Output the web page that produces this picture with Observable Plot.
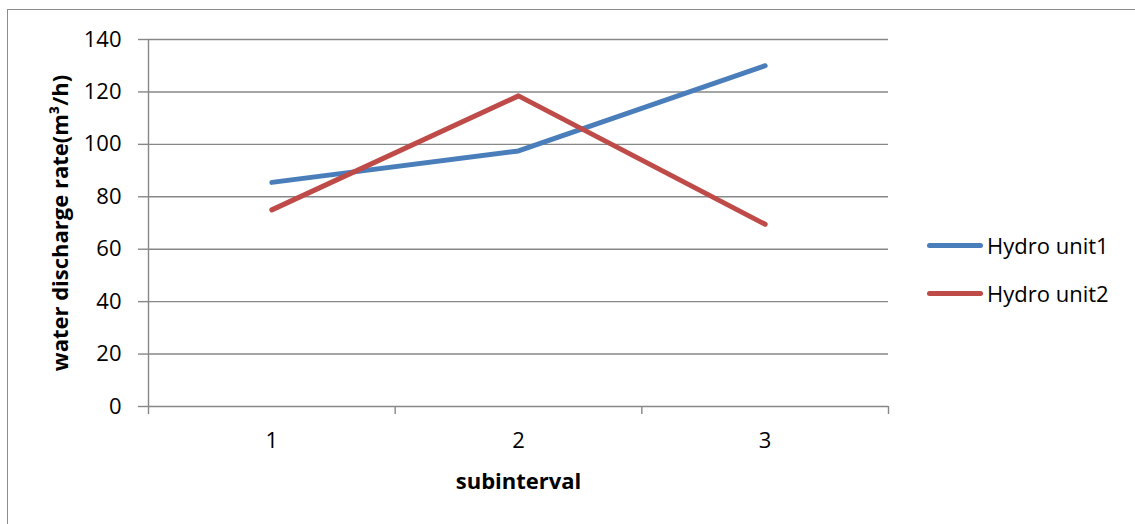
<!DOCTYPE html>
<html>
<head>
<meta charset="utf-8">
<script src="https://cdn.jsdelivr.net/npm/d3@7"></script>
<script src="https://cdn.jsdelivr.net/npm/@observablehq/plot@0.6"></script>
<style>
  html, body { margin: 0; padding: 0; background: #fff; }
  #frame { position: relative; width: 1135px; height: 524px; overflow: hidden; font-family: "Open Sans", sans-serif; }
  #border { position: absolute; left: 7px; top: 9px; width: 1300px; height: 700px; border: 1.5px solid #8c8c8c; box-sizing: border-box; }
  #chart { position: absolute; left: 0; top: 0; }
  #legend { position: absolute; left: 927px; top: 221px; }
  .item { display: flex; align-items: center; height: 48px; font-size: 22px; color: #000; }
  .swatch { width: 56px; height: 5px; border-radius: 3px; margin-right: 4px; }
</style>
</head>
<body>
<div id="frame">
  <div id="border"></div>
  <div id="chart"></div>
  <div id="legend"></div>
</div>
<script>
// Subintervals and discharge per hydro unit
const subintervals = [1, 2, 3];
const seriesNames = ["Hydro unit1", "Hydro unit2"];
const unit1 = [85.5, 97.5, 130];
const unit2 = [75, 118.5, 69.5];
const seriesColors = ["#4a7ebb", "#be4b48"];
const yTicks = [0, 20, 40, 60, 80, 100, 120, 140];

const rows = [];
[unit1, unit2].forEach((vals, s) => {
  subintervals.forEach((x, i) => rows.push({series: seriesNames[s], x, value: vals[i]}));
});

// category boundaries for the tick marks between subintervals
const boundaries = [subintervals[0] - 0.5, ...subintervals.map(d => d + 0.5)];
const gridColor = "#878787";

const chart = Plot.plot({
  width: 900,
  height: 524,
  marginLeft: 148,
  marginRight: 12,
  marginTop: 39,
  marginBottom: 118,
  style: {fontFamily: "Open Sans, sans-serif", fontSize: "22px", background: "transparent"},
  x: {type: "linear", domain: [boundaries[0], boundaries[boundaries.length - 1]], axis: null},
  y: {domain: [0, 140], axis: null},
  color: {domain: seriesNames, range: seriesColors},
  marks: [
    Plot.ruleY(yTicks, {stroke: gridColor, strokeWidth: 1.4}),
    Plot.ruleX([boundaries[0]], {y1: 0, y2: 140, stroke: gridColor, strokeWidth: 1.4}),
    Plot.axisY({ticks: yTicks, tickSize: 10, stroke: gridColor, strokeWidth: 1.4, text: null, label: null}),
    Plot.axisY({ticks: yTicks, tickSize: 0, tickPadding: 27, fill: "#000", fontSize: 22, label: null}),
    Plot.axisX({ticks: boundaries, tickSize: 8, stroke: gridColor, strokeWidth: 1.4, text: null, label: null}),
    Plot.axisX({ticks: subintervals, tickSize: 0, tickPadding: 26, fill: "#000", fontSize: 22, tickFormat: d => String(d), label: null}),
    Plot.text(["subinterval"], {frameAnchor: "bottom", dy: 75, fontWeight: "bold", fontSize: 22, fill: "#000", lineAnchor: "middle"}),
    Plot.text(["water discharge rate(m³/h)"], {frameAnchor: "left", dx: -88, rotate: -90, textAnchor: "middle", fontWeight: "bold", fontSize: 22, fill: "#000"}),
    Plot.line(rows, {x: "x", y: "value", z: "series", stroke: "series", strokeWidth: 5, strokeLinecap: "round", strokeLinejoin: "round"})
  ]
});
document.getElementById("chart").appendChild(chart);

const legend = document.getElementById("legend");
seriesNames.forEach((name, i) => {
  const item = document.createElement("div");
  item.className = "item";
  const sw = document.createElement("div");
  sw.className = "swatch";
  sw.style.background = seriesColors[i];
  const label = document.createElement("span");
  label.textContent = name;
  item.append(sw, label);
  legend.appendChild(item);
});
</script>
</body>
</html>
